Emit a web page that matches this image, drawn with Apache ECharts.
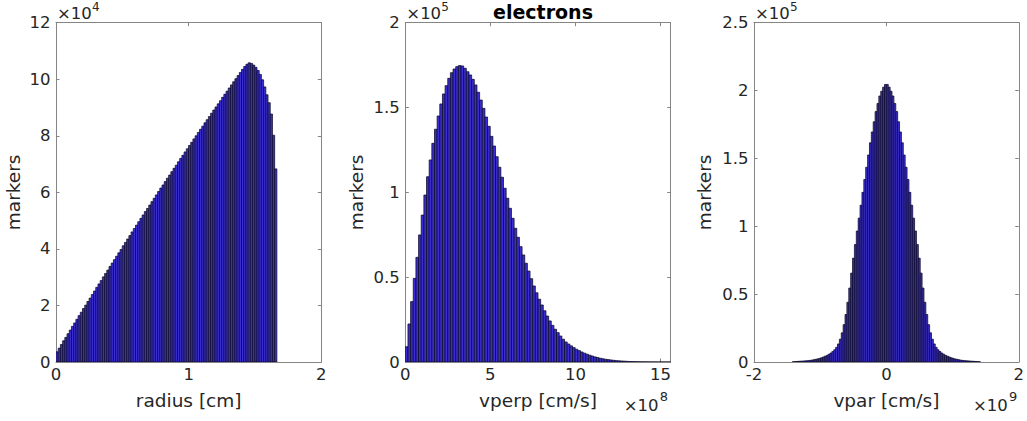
<!DOCTYPE html>
<html><head><meta charset="utf-8">
<script src="https://cdn.jsdelivr.net/npm/echarts/dist/echarts.min.js"></script>
<style>html,body{margin:0;padding:0;background:#fff}#c{width:1027px;height:421px}</style>
</head><body><div id="c"></div>
<script>
// ---------------- data ----------------
const titleText = 'electrons';
const yName = 'markers';
const xNames = ['radius [cm]', 'vperp [cm/s]', 'vpar [cm/s]'];

// panel 1: radius histogram, counts in units of 1e4
const radiusRange = [0, 1.665];
const radiusCounts = [
  0.36, 0.49, 0.62, 0.75, 0.87, 1.00, 1.13, 1.26, 1.38, 1.51,
  1.64, 1.76, 1.89, 2.01, 2.14, 2.26, 2.39, 2.51, 2.64, 2.76,
  2.88, 3.01, 3.13, 3.25, 3.38, 3.50, 3.62, 3.74, 3.86, 3.98,
  4.11, 4.23, 4.35, 4.47, 4.60, 4.72, 4.84, 4.96, 5.08, 5.20,
  5.32, 5.43, 5.55, 5.67, 5.79, 5.91, 6.03, 6.15, 6.26, 6.38,
  6.50, 6.61, 6.73, 6.85, 6.96, 7.08, 7.20, 7.31, 7.43, 7.54,
  7.66, 7.77, 7.89, 8.00, 8.12, 8.23, 8.34, 8.46, 8.57, 8.68,
  8.80, 8.91, 9.02, 9.13, 9.24, 9.36, 9.47, 9.58, 9.69, 9.80,
  9.91, 10.02, 10.13, 10.24, 10.35, 10.45, 10.53, 10.58, 10.56, 10.50,
  10.42, 10.31, 10.17, 9.98, 9.73, 9.45, 9.17, 8.77, 8.02, 6.83
];
// panel 2: vperp histogram (x in 1e8 cm/s), counts in units of 1e5
const vperpRange = [0, 15.6];
const vperpCounts = [
  0.090, 0.224, 0.356, 0.493, 0.617, 0.749, 0.866, 0.984, 1.092, 1.191,
  1.289, 1.372, 1.450, 1.521, 1.580, 1.629, 1.672, 1.705, 1.727, 1.741,
  1.747, 1.745, 1.731, 1.711, 1.692, 1.666, 1.633, 1.590, 1.544, 1.495,
  1.444, 1.389, 1.330, 1.273, 1.210, 1.148, 1.089, 1.024, 0.965, 0.906,
  0.847, 0.788, 0.735, 0.680, 0.631, 0.582, 0.536, 0.491, 0.448, 0.408,
  0.370, 0.336, 0.302, 0.271, 0.242, 0.216, 0.193, 0.173, 0.153, 0.134,
  0.118, 0.106, 0.095, 0.085, 0.075, 0.067, 0.059, 0.052, 0.046, 0.040,
  0.035, 0.030, 0.026, 0.022, 0.019, 0.016, 0.014, 0.012, 0.010, 0.008,
  0.007, 0.006, 0.005, 0.004, 0.003, 0.0025, 0.002, 0.0015, 0.0012, 0.001,
  0.0008, 0.0006, 0.0005, 0.0004, 0.0003, 0.0003, 0.0002, 0.0002, 0.0001, 0.0001
];
// panel 3: vpar histogram (x in 1e9 cm/s), counts in units of 1e5
const vparRange = [-1.42, 1.42];
const vparCounts = [
  0.002, 0.003, 0.004, 0.005, 0.006, 0.007, 0.008, 0.009, 0.010, 0.012,
  0.014, 0.017, 0.020, 0.023, 0.027, 0.031, 0.037, 0.043, 0.049, 0.057,
  0.066, 0.077, 0.090, 0.108, 0.133, 0.168, 0.215, 0.275, 0.350, 0.440,
  0.545, 0.655, 0.765, 0.865, 0.965, 1.060, 1.155, 1.250, 1.345, 1.435,
  1.525, 1.615, 1.695, 1.770, 1.845, 1.905, 1.960, 1.995, 2.025, 2.045,
  2.045, 2.025, 1.995, 1.960, 1.905, 1.845, 1.770, 1.695, 1.615, 1.525,
  1.435, 1.345, 1.250, 1.155, 1.060, 0.965, 0.865, 0.765, 0.655, 0.545,
  0.440, 0.350, 0.275, 0.215, 0.168, 0.133, 0.108, 0.090, 0.077, 0.066,
  0.057, 0.049, 0.043, 0.037, 0.031, 0.027, 0.023, 0.020, 0.017, 0.014,
  0.012, 0.010, 0.009, 0.008, 0.007, 0.006, 0.005, 0.004, 0.003, 0.002
];
// axis extents / tick steps
const xAxes = [{min: 0, max: 2, step: 1}, {min: 0, max: 15.6, step: 5}, {min: -2, max: 2, step: 2}];
const yAxes = [{min: 0, max: 12, step: 2}, {min: 0, max: 2, step: 0.5}, {min: 0, max: 2.5, step: 0.5}];
const yExponents = ['4', '5', '5'];
const xExponents = [null, '8', '9'];

// ---------------- layout / style ----------------
const grids = [
  {left: 56, top: 22.7, width: 265.3, height: 339.3},
  {left: 405.3, top: 22.7, width: 265.4, height: 339.3},
  {left: 754, top: 22.7, width: 266, height: 339.3}
];
const yNameGaps = [33, 39, 40];
const FONT = 'DejaVu Sans';
const TXT = '#262626';
const AX = '#858585';
const FACE = '#3a2ed2';
const EDGE = '#0c0a22';

const allData = [[radiusRange, radiusCounts], [vperpRange, vperpCounts], [vparRange, vparCounts]];

const xAxisOpts = [], yAxisOpts = [], series = [];
grids.forEach((g, i) => {
  const xa = xAxes[i], ya = yAxes[i];
  const mk = () => ({axisLine: {show: true, onZero: false, lineStyle: {color: AX, width: 1}},
    axisTick: {show: true, inside: true, length: 3.5, lineStyle: {color: AX}},
    splitLine: {show: false}});
  xAxisOpts.push(Object.assign({type: 'value', gridIndex: i, position: 'bottom', min: xa.min, max: xa.max, interval: xa.step,
    name: xNames[i], nameLocation: 'middle', nameGap: 29,
    nameTextStyle: {fontFamily: FONT, fontSize: 18.5, color: TXT},
    axisLabel: {fontFamily: FONT, fontSize: 16.5, color: TXT, margin: 4,
      formatter: v => (Math.abs(v / xa.step - Math.round(v / xa.step)) < 1e-9 ? String(+v.toFixed(6)) : '')}}, mk()));
  xAxisOpts.push(Object.assign({type: 'value', gridIndex: i, position: 'top', min: xa.min, max: xa.max, interval: xa.step,
    axisLabel: {show: false}}, mk()));
  yAxisOpts.push(Object.assign({type: 'value', gridIndex: i, position: 'left', min: ya.min, max: ya.max, interval: ya.step,
    name: yName, nameLocation: 'middle', nameGap: yNameGaps[i], nameRotate: 90,
    nameTextStyle: {fontFamily: FONT, fontSize: 18.5, color: TXT},
    axisLabel: {fontFamily: FONT, fontSize: 16.5, color: TXT, margin: 5.5}}, mk()));
  yAxisOpts.push(Object.assign({type: 'value', gridIndex: i, position: 'right', min: ya.min, max: ya.max, interval: ya.step,
    axisLabel: {show: false}}, mk()));

  const range = allData[i][0], counts = allData[i][1];
  const w = (range[1] - range[0]) / counts.length;
  const data = counts.map((c, k) => [range[0] + k * w, range[0] + (k + 1) * w, c]);
  series.push({
    type: 'custom', xAxisIndex: i * 2, yAxisIndex: i * 2, data: data,
    encode: {x: [0, 1], y: 2}, silent: true, animation: false, clip: true,
    renderItem: function (params, api) {
      const p0 = api.coord([api.value(0), api.value(2)]);
      const p1 = api.coord([api.value(1), 0]);
      return {type: 'rect', shape: {x: p0[0], y: p0[1], width: p1[0] - p0[0], height: p1[1] - p0[1]},
        style: {fill: FACE, stroke: EDGE, lineWidth: 0.75}};
    }
  });
});

const graphics = [];
grids.forEach((g, i) => {
  graphics.push({type: 'text', left: g.left + 1, top: 4.5, silent: true,
    style: {text: '×10', font: '16.5px "' + FONT + '"', fill: TXT}});
  graphics.push({type: 'text', left: g.left + 36, top: 0.5, silent: true,
    style: {text: yExponents[i], font: '12px "' + FONT + '"', fill: TXT}});
  if (xExponents[i]) {
    const r = g.left + g.width;
    graphics.push({type: 'text', left: r - 47, top: 396.5, silent: true,
      style: {text: '×10', font: '16.5px "' + FONT + '"', fill: TXT}});
    graphics.push({type: 'text', left: r - 11, top: 389.5, silent: true,
      style: {text: xExponents[i], font: '13px "' + FONT + '"', fill: TXT}});
  }
});

const chart = echarts.init(document.getElementById('c'), null, {renderer: 'svg', width: 1027, height: 421});
chart.setOption({
  backgroundColor: '#ffffff',
  animation: false,
  title: {text: titleText, left: grids[1].left + grids[1].width / 2, top: -3, textAlign: 'center',
    textStyle: {fontFamily: FONT, fontSize: 19, fontWeight: 'bold', color: '#000'}},
  grid: grids.map(g => Object.assign({containLabel: false}, g)),
  xAxis: xAxisOpts,
  yAxis: yAxisOpts,
  series: series,
  graphic: graphics
});
</script>
</body></html>
